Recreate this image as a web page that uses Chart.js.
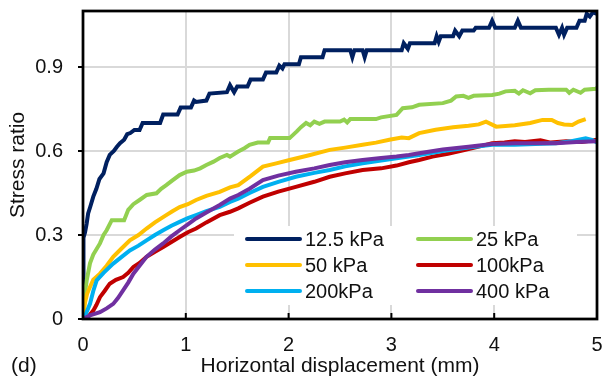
<!DOCTYPE html>
<html>
<head>
<meta charset="utf-8">
<script src="https://cdn.jsdelivr.net/npm/chart.js@4.4.1/dist/chart.umd.min.js"></script>
<style>
  html, body { margin: 0; padding: 0; background: #fff; }
  #wrap { width: 605px; height: 385px; }
</style>
</head>
<body>
<div id="wrap"><canvas id="chart" width="605" height="385"></canvas></div>
<script>
// series labels and [displacement mm, stress ratio] readings
var labels = ["12.5 kPa", "25 kPa", "50 kPa", "100kPa", "200kPa", "400 kPa"];
var colors = ["#002060", "#92D050", "#FFC000", "#C00000", "#00B0F0", "#7030A0"];

var p12_5 = [[0,0],[0.003,0.2],[0.006,0.29],[0.02,0.31],[0.035,0.34],[0.05,0.377],[0.07,0.4],[0.1,0.437],
  [0.13,0.465],[0.16,0.5],[0.2,0.52],[0.23,0.56],[0.26,0.586],[0.3,0.6],[0.33,0.615],[0.36,0.628],
  [0.4,0.64],[0.43,0.66],[0.46,0.664],[0.5,0.675],[0.55,0.675],[0.58,0.7],[0.75,0.7],[0.78,0.73],
  [0.92,0.73],[0.95,0.755],[1.05,0.755],[1.08,0.78],[1.1,0.775],[1.2,0.78],[1.23,0.805],[1.4,0.81],
  [1.43,0.835],[1.47,0.81],[1.5,0.83],[1.6,0.83],[1.63,0.855],[1.75,0.855],[1.78,0.88],[1.88,0.88],
  [1.91,0.905],[1.94,0.895],[1.96,0.91],[2.1,0.91],[2.12,0.935],[2.33,0.935],[2.35,0.96],[2.6,0.96],
  [2.62,0.935],[2.64,0.96],[2.72,0.96],[2.74,0.935],[2.76,0.96],[3.1,0.96],[3.12,0.985],[3.16,0.965],
  [3.18,0.985],[3.42,0.985],[3.44,1.01],[3.46,0.99],[3.48,1.01],[3.6,1.01],[3.62,1.03],[3.66,1.01],
  [3.69,1.03],[3.8,1.03],[3.82,1.04],[3.95,1.04],[3.98,1.065],[4.01,1.04],[4.2,1.04],[4.23,1.065],
  [4.26,1.04],[4.6,1.04],[4.63,1.015],[4.66,1.04],[4.68,1.015],[4.71,1.04],[4.8,1.04],[4.83,1.065],
  [4.88,1.065],[4.9,1.09],[4.93,1.08],[4.96,1.095],[5,1.09]];

var p25 = [[0,0],[0.01,0.07],[0.036,0.138],[0.068,0.199],[0.1,0.23],[0.165,0.27],[0.2,0.3],[0.23,0.317],
  [0.28,0.353],[0.4,0.353],[0.44,0.39],[0.49,0.41],[0.55,0.425],[0.62,0.443],[0.715,0.449],[0.76,0.465],
  [0.81,0.478],[0.87,0.495],[0.94,0.514],[1.01,0.526],[1.08,0.53],[1.14,0.538],[1.2,0.55],[1.27,0.562],
  [1.33,0.575],[1.4,0.586],[1.43,0.58],[1.51,0.598],[1.57,0.61],[1.62,0.622],[1.7,0.63],[1.8,0.63],
  [1.82,0.646],[2.01,0.646],[2.08,0.67],[2.12,0.685],[2.17,0.7],[2.21,0.692],[2.25,0.705],[2.3,0.697],
  [2.35,0.705],[2.5,0.705],[2.54,0.712],[2.57,0.702],[2.6,0.714],[2.85,0.714],[2.9,0.72],[3.05,0.729],
  [3.11,0.753],[3.2,0.756],[3.27,0.765],[3.5,0.771],[3.58,0.78],[3.63,0.795],[3.7,0.797],[3.75,0.79],
  [3.8,0.797],[3.98,0.8],[4.05,0.805],[4.11,0.813],[4.2,0.815],[4.24,0.805],[4.28,0.817],[4.35,0.806],
  [4.4,0.817],[4.53,0.819],[4.7,0.819],[4.73,0.808],[4.77,0.819],[4.84,0.808],[4.88,0.819],[4.99,0.822],
  [5,0.826]];

var p50 = [[0,0],[0.02,0.06],[0.04,0.09],[0.068,0.114],[0.1,0.14],[0.165,0.162],[0.23,0.19],[0.294,0.222],
  [0.37,0.25],[0.456,0.281],[0.54,0.3],[0.618,0.323],[0.7,0.345],[0.81,0.371],[0.87,0.385],[0.94,0.4],
  [1.02,0.41],[1.1,0.425],[1.2,0.44],[1.33,0.454],[1.43,0.47],[1.51,0.478],[1.63,0.51],[1.75,0.544],
  [1.88,0.556],[2.01,0.568],[2.2,0.585],[2.4,0.604],[2.55,0.612],[2.72,0.622],[2.85,0.63],[2.98,0.64],
  [3.1,0.648],[3.17,0.646],[3.27,0.664],[3.43,0.676],[3.6,0.685],[3.75,0.69],[3.85,0.695],[3.92,0.705],
  [4.02,0.687],[4.2,0.692],[4.35,0.7],[4.47,0.711],[4.56,0.711],[4.62,0.7],[4.68,0.695],[4.76,0.693],
  [4.82,0.705],[4.89,0.714]];

var p100 = [[0,0],[0.05,0.008],[0.1,0.03],[0.13,0.05],[0.165,0.078],[0.21,0.1],[0.26,0.126],[0.32,0.14],
  [0.39,0.15],[0.44,0.165],[0.49,0.186],[0.55,0.2],[0.618,0.222],[0.7,0.24],[0.78,0.257],[0.86,0.275],
  [0.94,0.293],[1.02,0.31],[1.1,0.323],[1.2,0.345],[1.33,0.371],[1.43,0.383],[1.51,0.395],[1.62,0.415],
  [1.75,0.437],[1.9,0.455],[2.07,0.472],[2.25,0.49],[2.4,0.508],[2.55,0.52],[2.72,0.532],[2.9,0.538],
  [3.05,0.548],[3.17,0.56],[3.27,0.568],[3.4,0.58],[3.55,0.59],[3.72,0.604],[3.9,0.62],[3.98,0.628],
  [4.1,0.63],[4.2,0.635],[4.3,0.632],[4.45,0.638],[4.55,0.63],[4.7,0.635],[4.85,0.632],[5,0.64]];

var p200 = [[0,0],[0.03,0.02],[0.068,0.054],[0.1,0.1],[0.133,0.138],[0.2,0.165],[0.294,0.198],[0.37,0.22],
  [0.456,0.245],[0.54,0.262],[0.618,0.281],[0.7,0.3],[0.78,0.317],[0.86,0.333],[0.94,0.347],[1.02,0.36],
  [1.1,0.371],[1.2,0.385],[1.33,0.4],[1.43,0.418],[1.51,0.43],[1.62,0.45],[1.75,0.472],[1.9,0.49],
  [2.07,0.508],[2.25,0.522],[2.4,0.532],[2.55,0.545],[2.72,0.556],[2.9,0.566],[3.05,0.574],[3.17,0.58],
  [3.27,0.586],[3.5,0.6],[3.75,0.612],[3.98,0.622],[4.2,0.622],[4.4,0.625],[4.6,0.628],[4.75,0.635],
  [4.89,0.645],[4.95,0.64],[5,0.63]];

var p400 = [[0,0],[0.068,0.013],[0.165,0.024],[0.23,0.038],[0.294,0.054],[0.34,0.075],[0.39,0.102],[0.44,0.13],
  [0.49,0.162],[0.55,0.19],[0.618,0.222],[0.7,0.248],[0.78,0.27],[0.86,0.295],[0.94,0.317],[1.02,0.338],
  [1.1,0.359],[1.2,0.38],[1.33,0.407],[1.43,0.43],[1.51,0.443],[1.62,0.465],[1.75,0.496],[1.9,0.512],
  [2.07,0.526],[2.25,0.538],[2.4,0.55],[2.55,0.56],[2.72,0.568],[2.9,0.575],[3.05,0.58],[3.17,0.586],
  [3.27,0.592],[3.5,0.605],[3.75,0.615],[3.98,0.625],[4.2,0.628],[4.4,0.628],[4.6,0.628],[4.8,0.632],
  [5,0.635]];

var series = [p12_5, p25, p50, p100, p200, p400];
var yTicks = [0, 0.3, 0.6, 0.9];
var xTicks = [0, 1, 2, 3, 4, 5];

var FONT = "'Liberation Sans', Arial, sans-serif";
var TEXT = "#111";

var datasets = series.map(function(pts, i) {
  return {
    label: labels[i],
    data: pts.map(function(p) { return {x: p[0], y: p[1]}; }),
    borderColor: colors[i],
    borderWidth: 4,
    pointRadius: 0,
    tension: 0,
    fill: false,
    order: series.length - 1 - i
  };
});

// frame, inward x ticks, in-plot legend and panel tag
var decor = {
  id: 'decor',
  afterDatasetsDraw: function(chart) {
    var ctx = chart.ctx, ca = chart.chartArea, xs = chart.scales.x;
    ctx.save();
    ctx.strokeStyle = '#000';
    ctx.lineWidth = 2;
    xTicks.forEach(function(v) {
      var px = xs.getPixelForValue(v);
      ctx.beginPath(); ctx.moveTo(px, ca.bottom); ctx.lineTo(px, ca.bottom - 6); ctx.stroke();
    });
    ctx.lineWidth = 2.75;
    ctx.strokeRect(ca.left, ca.top, ca.right - ca.left, ca.bottom - ca.top);

    // legend box
    var bx = ca.left + 151, by = ca.top + 215;
    ctx.fillStyle = '#fff';
    ctx.fillRect(bx, by, 343, 79);
    ctx.font = "20px " + FONT;
    ctx.textBaseline = 'middle';
    ctx.textAlign = 'left';
    ctx.lineCap = 'round';
    labels.forEach(function(lab, i) {
      var col = i % 2, row = Math.floor(i / 2);
      var lx = bx + 13 + col * 171, ly = by + 13 + row * 26;
      ctx.strokeStyle = colors[i];
      ctx.lineWidth = 4;
      ctx.beginPath(); ctx.moveTo(lx, ly); ctx.lineTo(lx + 53, ly); ctx.stroke();
      ctx.fillStyle = TEXT;
      ctx.fillText(lab, lx + 58, ly + 1);
    });

    ctx.font = "21px " + FONT;
    ctx.fillText('(d)', 11, 366);
    ctx.restore();
  }
};

new Chart(document.getElementById('chart'), {
  type: 'line',
  data: { datasets: datasets },
  plugins: [decor],
  options: {
    responsive: false,
    animation: false,
    devicePixelRatio: 1,
    layout: { padding: { top: 11, right: 8, left: 0, bottom: 0 } },
    plugins: { legend: { display: false }, tooltip: { enabled: false } },
    scales: {
      x: {
        type: 'linear',
        min: 0, max: 5,
        afterBuildTicks: function(s) { s.ticks = xTicks.map(function(v) { return {value: v}; }); },
        afterFit: function(s) { s.height = 66; s.paddingLeft = 0; s.paddingRight = 0; },
        grid: { color: '#d9d9d9', lineWidth: 2, drawTicks: false },
        border: { display: false },
        ticks: { padding: 14, color: TEXT, font: { family: FONT, size: 20 }, maxRotation: 0 },
        title: { display: true, text: 'Horizontal displacement (mm)', color: TEXT,
                 font: { family: FONT, size: 21 }, padding: { top: 0, bottom: 6 } }
      },
      y: {
        type: 'linear',
        min: 0, max: 1.1,
        afterBuildTicks: function(s) { s.ticks = yTicks.map(function(v) { return {value: v}; }); },
        afterFit: function(s) { s.width = 83; s.paddingTop = 0; s.paddingBottom = 0; },
        grid: { color: '#d9d9d9', lineWidth: 2, tickColor: '#000', tickLength: 5, tickWidth: 2 },
        border: { display: false },
        ticks: { padding: 15, color: TEXT, font: { family: FONT, size: 20 },
                 callback: function(v) { return v === 0 ? '0' : v.toFixed(1); } },
        title: { display: true, text: 'Stress ratio', color: TEXT,
                 font: { family: FONT, size: 21 }, padding: { top: 6, bottom: 0 } }
      }
    }
  }
});
</script>
</body>
</html>
